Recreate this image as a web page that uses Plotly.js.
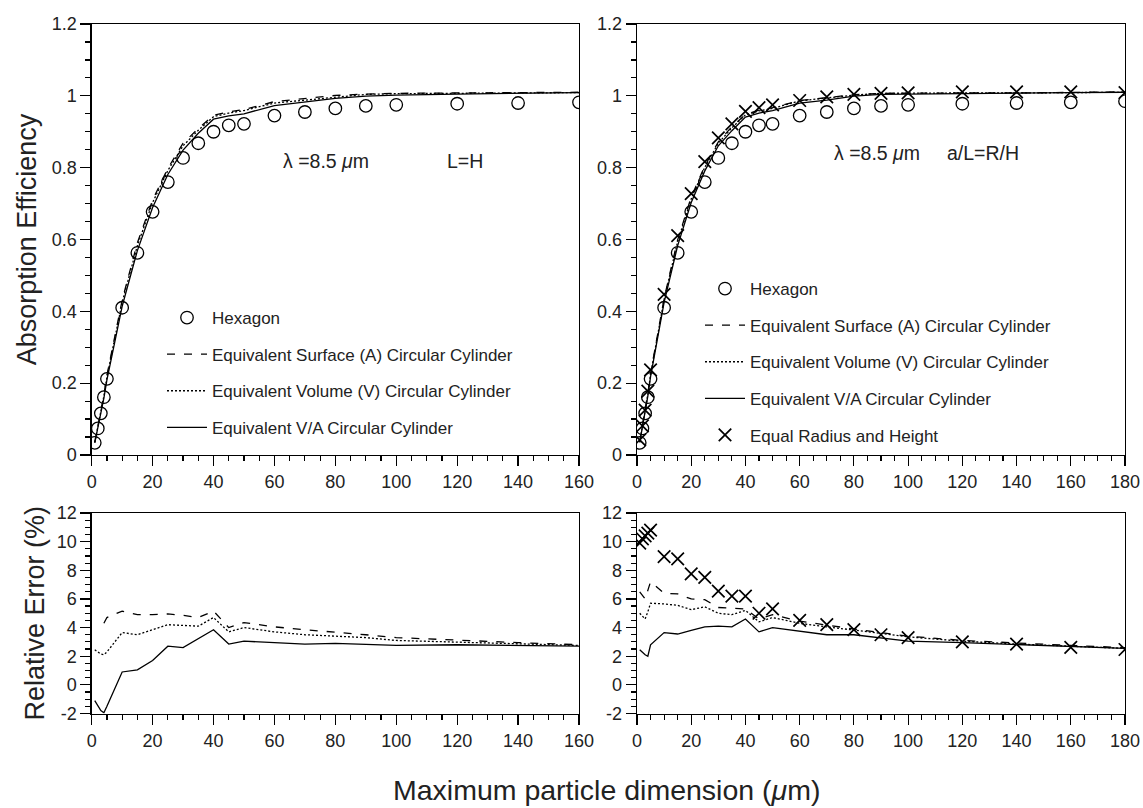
<!DOCTYPE html>
<html><head><meta charset="utf-8">
<script src="https://cdn.plot.ly/plotly-3.0.1.min.js"></script>
<style>html,body{margin:0;padding:0;background:#fff}#chart{width:1143px;height:808px}</style>
</head><body><div id="chart"></div>
<script>
// ---- data ----
const xLeft  = [1,2,3,4,5,10,15,20,25,30,35,40,45,50,60,70,80,90,100,120,140,160];
const xRight = [1,2,3,4,5,10,15,20,25,30,35,40,45,50,60,70,80,90,100,120,140,160,180];

const hexLeft  = [0.034,0.074,0.116,0.161,0.212,0.410,0.563,0.677,0.760,0.827,0.868,0.900,0.918,0.922,0.945,0.955,0.965,0.972,0.975,0.978,0.980,0.982];
const surfLeft = [0.036,0.077,0.121,0.168,0.222,0.431,0.591,0.710,0.798,0.868,0.909,0.946,0.955,0.962,0.984,0.992,1.001,1.005,1.007,1.008,1.009,1.010];
const volLeft  = [0.035,0.076,0.119,0.164,0.217,0.425,0.583,0.703,0.792,0.861,0.904,0.942,0.952,0.959,0.980,0.988,0.998,1.004,1.006,1.007,1.008,1.009];
const vaLeft   = [0.034,0.073,0.114,0.158,0.209,0.414,0.569,0.689,0.781,0.849,0.896,0.935,0.944,0.950,0.973,0.982,0.993,0.999,1.002,1.005,1.007,1.009];

const hexRight   = [0.034,0.074,0.116,0.161,0.212,0.410,0.563,0.677,0.760,0.827,0.868,0.900,0.918,0.922,0.945,0.955,0.965,0.972,0.975,0.978,0.980,0.982,0.985];
const surfRight  = [0.036,0.079,0.123,0.172,0.227,0.436,0.599,0.718,0.805,0.872,0.914,0.948,0.960,0.967,0.987,0.995,1.003,1.007,1.008,1.008,1.008,1.009,1.011];
const volRight   = [0.036,0.078,0.121,0.169,0.224,0.433,0.594,0.713,0.801,0.868,0.911,0.947,0.958,0.965,0.986,0.994,1.002,1.007,1.008,1.008,1.008,1.009,1.010];
const vaRight    = [0.035,0.076,0.118,0.164,0.218,0.425,0.583,0.703,0.791,0.861,0.903,0.941,0.952,0.959,0.980,0.988,0.999,1.004,1.005,1.007,1.007,1.009,1.010];
const equalRight = [0.042,0.081,0.125,0.178,0.237,0.447,0.611,0.728,0.817,0.883,0.922,0.957,0.967,0.975,0.987,0.997,1.004,1.007,1.008,1.011,1.011,1.011,1.009];

const errSurfLeft = [null,null,null,4.3,4.7,5.15,4.9,4.9,4.95,4.85,4.7,5.15,4.0,4.35,4.05,3.85,3.7,3.5,3.3,3.1,2.95,2.8];
const errVolLeft  = [2.45,2.3,2.15,2.1,2.3,3.65,3.5,3.85,4.2,4.15,4.1,4.7,3.7,4.0,3.7,3.5,3.4,3.3,3.1,3.0,2.85,2.75];
const errVALeft   = [-1.1,-1.5,-1.8,-1.95,-1.5,0.9,1.05,1.7,2.7,2.6,3.25,3.85,2.85,3.05,2.95,2.85,2.9,2.8,2.75,2.8,2.75,2.7];

const errSurfRight  = [6.5,6.25,6.0,6.6,7.2,6.4,6.35,6.0,5.95,5.4,5.35,5.3,4.6,4.9,4.45,4.15,3.9,3.65,3.4,3.1,2.9,2.75,2.6];
const errVolRight   = [5.0,4.8,4.6,5.1,5.7,5.65,5.55,5.25,5.45,5.0,4.9,5.2,4.4,4.7,4.3,4.05,3.85,3.6,3.35,3.05,2.85,2.7,2.55];
const errVARight    = [2.45,2.25,2.1,2.0,2.8,3.65,3.55,3.8,4.05,4.1,4.05,4.6,3.7,4.0,3.75,3.5,3.5,3.3,3.05,2.95,2.8,2.7,2.55];
const errEqualRight = [9.9,10.2,10.4,10.6,10.8,8.95,8.8,7.75,7.5,6.55,6.2,6.2,5.0,5.3,4.5,4.2,3.85,3.5,3.3,3.0,2.85,2.62,2.47];

const names = ['Hexagon','Equivalent Surface (A) Circular Cylinder','Equivalent Volume (V) Circular Cylinder','Equivalent V/A Circular Cylinder','Equal Radius and Height'];
const errTickVals = [-2,0,2,4,6,8,10,12];
const errTickText = ['-2','0','2','4','6','8','10','12'];

// ---- styles ----
const BLACK = '#000';
const LW = 1.3;
const hexMarker = {symbol:'circle-open', size:12.5, color:BLACK, line:{width:1.3, color:BLACK}};
const xMarker = {symbol:'x-thin-open', size:12.5, color:BLACK, line:{width:1.7, color:BLACK}};
const dashA = {color:BLACK, width:LW, dash:'8px,9px'};
const dotV = {color:BLACK, width:LW, dash:'2px,2px'};
const solidVA = {color:BLACK, width:LW};

function tr(x, y, xa, ya, opts){ return Object.assign({x:x, y:y, xaxis:xa, yaxis:ya, hoverinfo:'skip', showlegend:false}, opts); }

const data = [
  // top left
  tr(xLeft, hexLeft, 'x','y', {mode:'markers', marker:hexMarker, name:names[0], showlegend:true, legend:'legend', legendgroup:'a0'}),
  tr(xLeft, surfLeft,'x','y', {mode:'lines', line:dashA, name:names[1], showlegend:true, legend:'legend', legendgroup:'a1'}),
  tr(xLeft, volLeft, 'x','y', {mode:'lines', line:dotV, name:names[2], showlegend:true, legend:'legend', legendgroup:'a2'}),
  tr(xLeft, vaLeft,  'x','y', {mode:'lines', line:solidVA, name:names[3], showlegend:true, legend:'legend', legendgroup:'a3'}),
  // top right
  tr(xRight, hexRight, 'x2','y2', {mode:'markers', marker:hexMarker, name:names[0], showlegend:true, legend:'legend2', legendgroup:'b0'}),
  tr(xRight, surfRight,'x2','y2', {mode:'lines', line:dashA, name:names[1], showlegend:true, legend:'legend2', legendgroup:'b1'}),
  tr(xRight, volRight, 'x2','y2', {mode:'lines', line:dotV, name:names[2], showlegend:true, legend:'legend2', legendgroup:'b2'}),
  tr(xRight, vaRight,  'x2','y2', {mode:'lines', line:solidVA, name:names[3], showlegend:true, legend:'legend2', legendgroup:'b3'}),
  tr(xRight, equalRight,'x2','y2', {mode:'markers', marker:xMarker, name:names[4], showlegend:true, legend:'legend2', legendgroup:'b4'}),
  // bottom left
  tr(xLeft, errSurfLeft,'x3','y3', {mode:'lines', line:dashA, name:names[1]}),
  tr(xLeft, errVolLeft, 'x3','y3', {mode:'lines', line:dotV, name:names[2]}),
  tr(xLeft, errVALeft,  'x3','y3', {mode:'lines', line:solidVA, name:names[3]}),
  // bottom right
  tr(xRight, errSurfRight,'x4','y4', {mode:'lines', line:dashA, name:names[1]}),
  tr(xRight, errVolRight, 'x4','y4', {mode:'lines', line:dotV, name:names[2]}),
  tr(xRight, errVARight,  'x4','y4', {mode:'lines', line:solidVA, name:names[3]}),
  tr(xRight, errEqualRight,'x4','y4', {mode:'markers', marker:xMarker, name:names[4]})
];

const W = 1143, H = 808;
const TXT = '#222';
const TICKF = {size:18, color:TXT};
function xax(domPx, range, anchor){
  return {domain:[domPx[0]/W, domPx[1]/W], range:range, anchor:anchor, dtick:20, tick0:0,
    ticks:'outside', ticklen:10, tickwidth:1.2, tickcolor:BLACK,
    minor:{dtick:5, tick0:0, ticks:'outside', ticklen:5, tickwidth:1.2, tickcolor:BLACK, showgrid:false},
    showline:true, mirror:true, linecolor:BLACK, linewidth:1.4, showgrid:false, zeroline:false,
    tickfont:TICKF, fixedrange:true};
}
function yax(domPx, range, anchor, extra){
  return Object.assign({domain:[1-domPx[1]/H, 1-domPx[0]/H], range:range, anchor:anchor,
    ticks:'outside', ticklen:10, tickwidth:1.2, tickcolor:BLACK,
    showline:true, mirror:true, linecolor:BLACK, linewidth:1.4, showgrid:false, zeroline:false,
    tickfont:TICKF, fixedrange:true}, extra);
}
const topY = [24, 455], botY = [513, 713.5];
const leftX = [91.7, 579], rightX = [637, 1125];
const effY = {dtick:0.2, tick0:0, minor:{dtick:0.05, tick0:0, ticks:'outside', ticklen:5, tickwidth:1.2, tickcolor:BLACK, showgrid:false}};
const errY = {tickmode:'array', tickvals:errTickVals, ticktext:errTickText,
  minor:{tickmode:'linear', dtick:0.5, tick0:0, ticks:'outside', ticklen:5, tickwidth:1.2, tickcolor:BLACK, showgrid:false}};

const legendBase = {xanchor:'left', yanchor:'top', bgcolor:'rgba(0,0,0,0)', borderwidth:0, itemwidth:40,
  font:{size:17, color:TXT}, traceorder:'grouped', tracegroupgap:11.5};

const layout = {
  width:W, height:H, margin:{l:0, r:0, t:0, b:0},
  paper_bgcolor:'#fff', plot_bgcolor:'#fff',
  font:{family:'"Liberation Sans", Arial, Helvetica, sans-serif', color:TXT},
  xaxis: xax(leftX, [0,160], 'y'),
  yaxis: yax(topY, [0,1.2], 'x', Object.assign({title:{text:'Absorption Efficiency', font:{size:27, color:TXT}, standoff:7}}, effY)),
  xaxis2: xax(rightX, [0,180], 'y2'),
  yaxis2: yax(topY, [0,1.2], 'x2', effY),
  xaxis3: xax(leftX, [0,160], 'y3'),
  yaxis3: yax(botY, [-2,12], 'x3', Object.assign({title:{text:'Relative Error (%)', font:{size:27, color:TXT}, standoff:4}}, errY)),
  xaxis4: xax(rightX, [0,180], 'y4'),
  yaxis4: yax(botY, [-2,12], 'x4', errY),
  legend: Object.assign({x:162/W, y:1-300/H}, legendBase),
  legend2: Object.assign({x:700/W, y:1-271/H}, legendBase),
  annotations:[
    {xref:'x', yref:'y', x:62, y:0.818, xanchor:'left', yanchor:'middle', showarrow:false, text:'λ =8.5 <i>μ</i>m', font:{size:19.5, color:TXT}},
    {xref:'x', yref:'y', x:116, y:0.818, xanchor:'left', yanchor:'middle', showarrow:false, text:'L=H', font:{size:19.5, color:TXT}},
    {xref:'x2', yref:'y2', x:72, y:0.84, xanchor:'left', yanchor:'middle', showarrow:false, text:'λ =8.5 <i>μ</i>m', font:{size:19.5, color:TXT}},
    {xref:'x2', yref:'y2', x:113.5, y:0.84, xanchor:'left', yanchor:'middle', showarrow:false, text:'a/L=R/H', font:{size:19.5, color:TXT}},
    {xref:'paper', yref:'paper', x:606/W, y:1-790/H, xanchor:'center', yanchor:'middle', showarrow:false, text:'Maximum particle dimension (<i>μ</i>m)', font:{size:28.5, color:TXT}}
  ]
};

Plotly.newPlot('chart', data, layout, {displayModeBar:false, staticPlot:true});
</script>
</body></html>
